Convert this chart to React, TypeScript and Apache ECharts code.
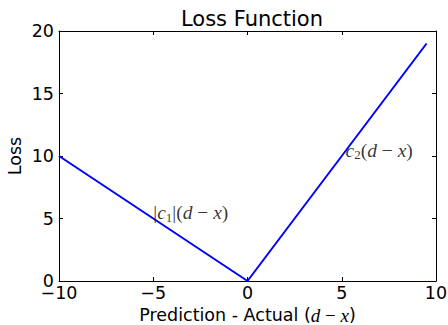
import React, { useEffect, useRef } from "react";
import * as echarts from "echarts";

const xPoints = [-10, 0, 9.5];
const yPoints = [10, 0, 19];
const xTicks = { min: -10, max: 10, interval: 5 };
const yTicks = { min: 0, max: 20, interval: 5 };
const annotations = [
  { x: -5, y: 5, parts: [["n", "|"], ["i", "c"], ["sub", "1"], ["n", "|("], ["i", "d"], ["n", " − "], ["i", "x"], ["n", ")"]] },
  { x: 5.2, y: 10, parts: [["i", "c"], ["sub", "2"], ["n", "("], ["i", "d"], ["n", " − "], ["i", "x"], ["n", ")"]] },
];

const SANS = "DejaVu Sans";
const SERIF = "Liberation Serif";
const FS = 17.5;

const rich = {
  n: { fontFamily: SERIF, fontSize: 19.5, color: "#000", lineHeight: 22, verticalAlign: "middle" },
  i: { fontFamily: SERIF, fontStyle: "italic", fontSize: 19.5, color: "#000", lineHeight: 22, verticalAlign: "middle" },
  sub: { fontFamily: SERIF, fontSize: 13, color: "#000", lineHeight: 22, verticalAlign: "bottom" },
};

const nameRich = {
  n: { fontFamily: SERIF, fontSize: 19, color: "#000", lineHeight: 16, verticalAlign: "middle" },
  i: { fontFamily: SERIF, fontStyle: "italic", fontSize: 19, color: "#000", lineHeight: 16, verticalAlign: "middle" },
  s: { fontFamily: SANS, fontSize: FS, color: "#000", lineHeight: 16, verticalAlign: "middle" },
};

const fmt = (v: number) => (v < 0 ? "\u2212" + Math.abs(v) : String(v));

export default function App() {
  const ref = useRef<HTMLDivElement>(null);
  useEffect(() => {
    const chart = echarts.init(ref.current!, null, { renderer: "svg" });
    const axisCommon = {
      axisLine: { show: true, onZero: false, lineStyle: { color: "#000", width: 1 } },
      axisTick: { show: true, inside: true, length: 4, lineStyle: { color: "#000" } },
      splitLine: { show: false },
    };
    chart.setOption({
      animation: false,
      backgroundColor: "#fff",
      title: {
        text: "Loss Function",
        left: 247,
        top: 3,
        textAlign: "center",
        textStyle: { fontFamily: SANS, fontSize: 21, fontWeight: "normal", color: "#000" },
      },
      grid: { left: 59, right: 12, top: 31, bottom: 44, outerBoundsMode: "none", containLabel: false },
      xAxis: [
        {
          type: "value",
          position: "bottom",
          ...xTicks,
          ...axisCommon,
          axisLabel: { fontFamily: SANS, fontSize: FS, color: "#000", margin: 3, formatter: fmt },
          name: "{s|Prediction - Actual (}{i|d}{n| − }{i|x}{s|)}",
          nameLocation: "middle",
          nameGap: 26,
          nameMoveOverlap: false,
          nameTextStyle: { rich: nameRich },
        },
        {
          type: "value",
          position: "top",
          ...xTicks,
          ...axisCommon,
          axisLabel: { show: false },
        },
      ],
      yAxis: [
        {
          type: "value",
          position: "left",
          ...yTicks,
          ...axisCommon,
          axisLabel: { fontFamily: SANS, fontSize: FS, color: "#000", margin: 5, formatter: fmt },
          name: "Loss",
          nameLocation: "middle",
          nameRotate: 90,
          nameGap: 35,
          nameMoveOverlap: false,
          nameTextStyle: { fontFamily: SANS, fontSize: FS, color: "#000" },
        },
        {
          type: "value",
          position: "right",
          ...yTicks,
          ...axisCommon,
          axisLabel: { show: false },
        },
      ],
      series: [
        {
          type: "line",
          data: xPoints.map((x, i) => [x, yPoints[i]]),
          symbol: "none",
          lineStyle: { color: "#0000ff", width: 2 },
          z: 3,
        },
        ...annotations.map((a) => ({
          type: "scatter",
          data: [[a.x, a.y]],
          symbolSize: 0,
          silent: true,
          label: {
            show: true,
            position: [0, 0],
            offset: [0, 5],
            align: "left",
            verticalAlign: "bottom",
            formatter: a.parts.map(([k, t]) => `{${k}|${t}}`).join(""),
            rich,
          },
          z: 4,
        })),
      ],
    });
    return () => chart.dispose();
  }, []);
  return <div ref={ref} style={{ position: "absolute", left: 0, top: 0, width: 448, height: 325 }} />;
}
